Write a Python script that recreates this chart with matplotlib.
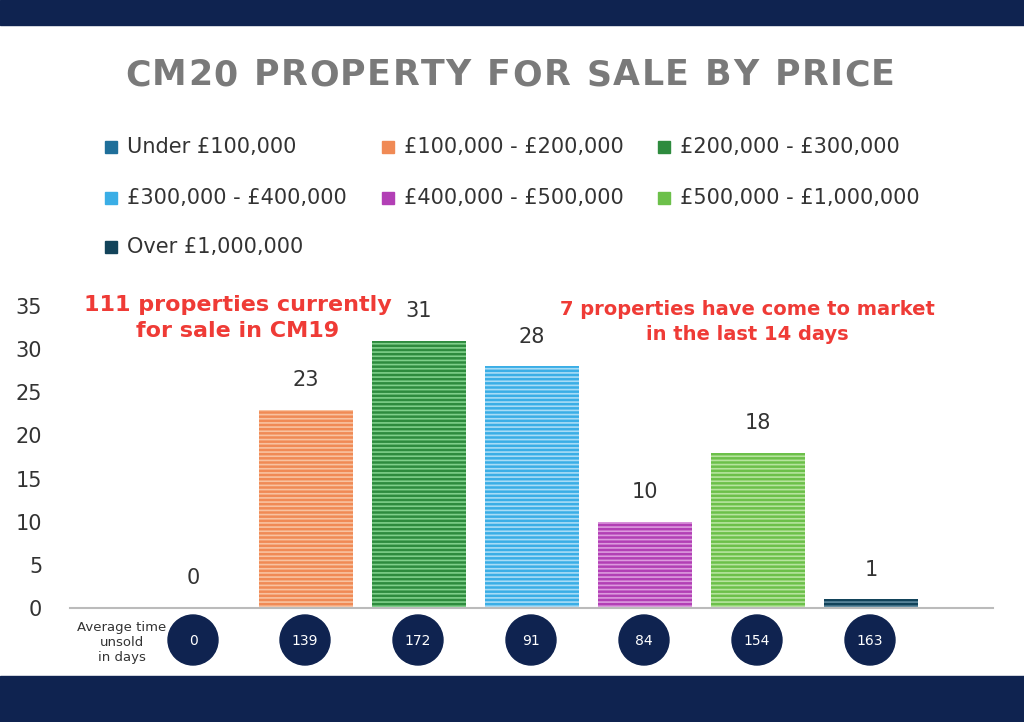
import matplotlib.pyplot as plt
from matplotlib.patches import Rectangle, Ellipse

categories = ["Under £100,000", "£100,000 - £200,000", "£200,000 - £300,000",
              "£300,000 - £400,000", "£400,000 - £500,000", "£500,000 - £1,000,000",
              "Over £1,000,000"]
counts = [0, 23, 31, 28, 10, 18, 1]
days_unsold = [0, 139, 172, 91, 84, 154, 163]
colors = ["#1f6f9a", "#f08a55", "#2e8b3e", "#3aaee6", "#b23fb5", "#6cc04a", "#12435a"]
hatch_cols = ["#5f9fc0", "#f8c2a0", "#7fcf8a", "#a8dcf6", "#dc9ade", "#b6e49e", "#5f8aa0"]
navy = "#0f2350"

fig = plt.figure(figsize=(10.24, 7.22), dpi=100)
fig.patches.append(Rectangle((0, 1 - 25/722), 1, 25/722, transform=fig.transFigure, color=navy, zorder=0))
fig.patches.append(Rectangle((0, 0), 1, 46/722, transform=fig.transFigure, color=navy, zorder=0))

# title with wide letter spacing: place each letter after measuring the previous one
title = "CM20 PROPERTY FOR SALE BY PRICE"
renderer = fig.canvas.get_renderer()
tstyle = dict(fontsize=25, fontweight="bold", color="#7a7a7a", family="DejaVu Sans", va="center")
widths = []
for ch in title:
    t = fig.text(0, 0, ch if ch != " " else "n", **tstyle)
    widths.append(t.get_window_extent(renderer).width * (0.55 if ch == " " else 1))
    t.remove()
x0, x1 = 125, 895
track = (x1 - x0 - sum(widths)) / (len(title) - 1)
xp = x0
for ch, w in zip(title, widths):
    if ch != " ":
        fig.text(xp / 1024, 1 - 75/722, ch, ha="left", **tstyle)
    xp += w + track

# legend
lx = [105, 382, 658]
ly = [148, 199, 248]
for i, (c, lab) in enumerate(zip(colors, categories)):
    x = lx[i % 3] / 1024
    y = 1 - ly[i // 3] / 722
    fig.patches.append(Rectangle((x, y - 0.007), 0.012, 0.017, transform=fig.transFigure, color=c))
    fig.text(x + 0.021, y + 0.002, lab, va="center", fontsize=15, color="#333333")

ax = fig.add_axes([70/1024, 1 - 608/722, 923/1024, 302/722])
x = list(range(len(counts)))
plt.rcParams['hatch.linewidth'] = 1.2
for i in x:
    plt.rcParams['hatch.color'] = hatch_cols[i]
    ax.bar(i, counts[i], width=0.83, color=colors[i], hatch="----", edgecolor=hatch_cols[i], linewidth=0)
    ax.text(i, counts[i] + 2.3, str(counts[i]), ha="center", va="bottom", fontsize=15, color="#333333")
ax.set_xlim(-1.09, 7.08)
ax.set_ylim(0, 35)
ax.set_yticks(range(0, 36, 5))
ax.tick_params(axis="y", labelsize=15, length=0, labelcolor="#333333", pad=20)
ax.set_xticks([])
for s in ["top", "right", "left"]:
    ax.spines[s].set_visible(False)
ax.spines["bottom"].set_color("#bbbbbb")
ax.spines["bottom"].set_linewidth(1.5)

fig.text(238/1024, 1 - 318/722, "111 properties currently\nfor sale in CM19", ha="center", va="center",
         fontsize=16, fontweight="bold", color="#ef3b36", linespacing=1.35)
fig.text(747/1024, 1 - 322/722, "7 properties have come to market\nin the last 14 days", ha="center",
         va="center", fontsize=14, fontweight="bold", color="#ef3b36", linespacing=1.4)

fig.text(122/1024, 1 - 643/722, "Average time\nunsold\nin days", ha="center", va="center",
         fontsize=9.5, color="#333333", linespacing=1.2)
cx = [193, 305, 418, 531, 644, 757, 870]
for px, d in zip(cx, days_unsold):
    fig.patches.append(Ellipse((px/1024, 1 - 640/722), 50/1024, 50/722, transform=fig.transFigure, color=navy))
    fig.text(px/1024, 1 - 641/722, str(d), ha="center", va="center", fontsize=10, color="white")

fig.savefig("out.png", dpi=100, facecolor="white")
